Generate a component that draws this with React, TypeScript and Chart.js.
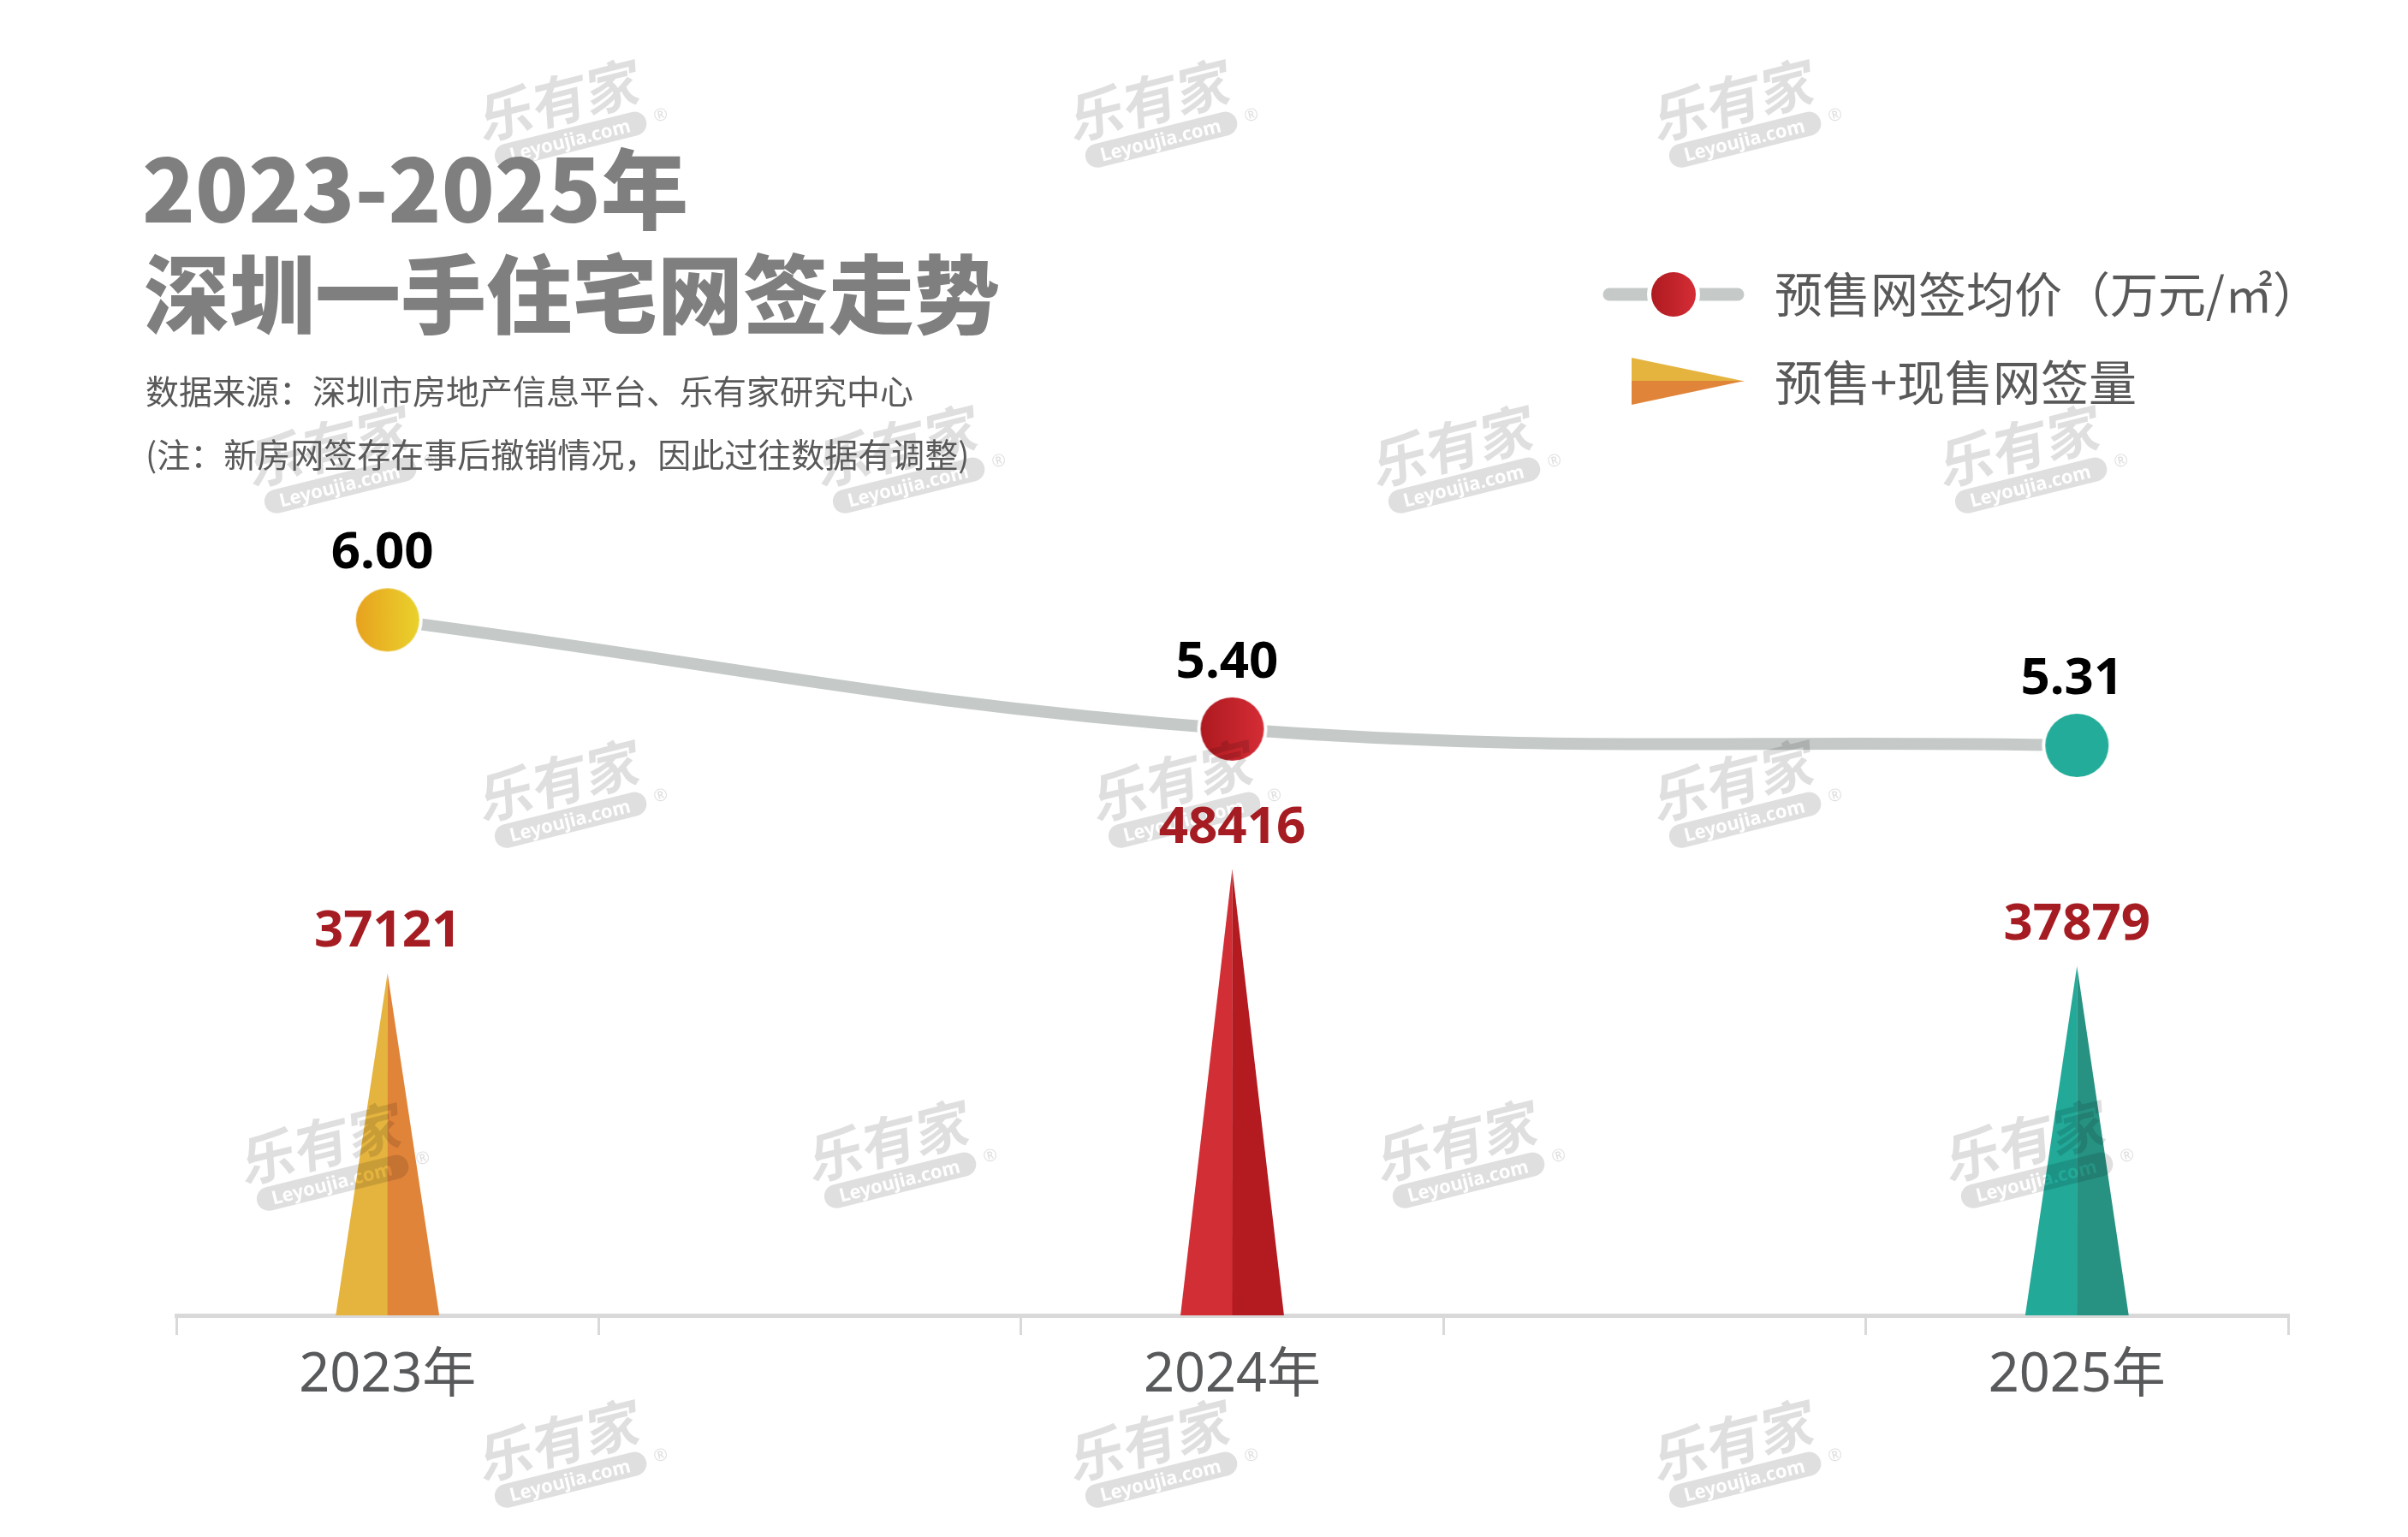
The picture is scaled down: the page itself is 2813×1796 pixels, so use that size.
import React, { useEffect, useRef } from 'react';
import { Chart, registerables } from 'chart.js';

Chart.register(...registerables);

// ---------- data ----------
const years = ['2023年', '2024年', '2025年'];
const avgPrice = [6.0, 5.4, 5.31];
const priceText = ['6.00', '5.40', '5.31'];
const signedVolume = [37121, 48416, 37879];
const titleLines = ['2023-2025年', '深圳一手住宅网签走势'];
const noteLines = [
  '数据来源：深圳市房地产信息平台、乐有家研究中心',
  '(注：新房网签存在事后撤销情况，因此过往数据有调整)',
];
const legendLabels = ['预售网签均价（万元/㎡）', '预售+现售网签量'];
const watermarkBrand = '乐有家';
const watermarkSite = 'Leyoujia.com';

// ---------- styles ----------
const W = 2813;
const H = 1796;
const CJK = '"Noto Sans CJK SC", "Noto Sans", sans-serif';
const LATIN = '"Noto Sans", "Noto Sans CJK SC", sans-serif';
const triColors: [string, string][] = [
  ['#E5B43F', '#E0843A'],
  ['#D22E35', '#B31B20'],
  ['#22A998', '#279282'],
];
const pointGrad: [string, string][] = [
  ['#E8A21F', '#EAD22C'],
  ['#AE1A20', '#D52D36'],
  ['#22AC99', '#22AC99'],
];
const watermarkSpots: [number, number][] = [
  [655, 129], [1345, 129], [2027, 129],
  [386, 533], [1050, 533], [1699, 533], [2361, 533],
  [655, 924], [1372, 924], [2027, 924],
  [377, 1348], [1040, 1345], [1704, 1345], [2368, 1345],
  [655, 1695], [1345, 1695], [2027, 1695],
];

// category slots: each year separated by an empty slot
const slotLabels: string[] = years.flatMap((y, i) => (i < years.length - 1 ? [y, `gap${i}`] : [y]));

function makePointImage(c1: string, c2: string, r: number, border: number): HTMLCanvasElement {
  const size = Math.ceil(2 * (r + border) + 2);
  const c = document.createElement('canvas');
  c.width = size;
  c.height = size;
  const g = c.getContext('2d')!;
  const cx = size / 2;
  g.fillStyle = '#ffffff';
  g.beginPath();
  g.arc(cx, cx, r + border, 0, Math.PI * 2);
  g.fill();
  const grad = g.createLinearGradient(cx - r, 0, cx + r, 0);
  grad.addColorStop(0, c1);
  grad.addColorStop(1, c2);
  g.fillStyle = grad;
  g.beginPath();
  g.arc(cx, cx, r, 0, Math.PI * 2);
  g.fill();
  return c;
}

function makeWatermark(): HTMLCanvasElement {
  const c = document.createElement('canvas');
  c.width = 340;
  c.height = 240;
  const g = c.getContext('2d')!;
  g.translate(170, 120);
  g.rotate((-14 * Math.PI) / 180);
  g.fillStyle = '#000';
  g.textAlign = 'center';
  g.textBaseline = 'alphabetic';
  g.save();
  g.transform(1, 0, -0.18, 1, 0, 0);
  g.font = `bold 64px ${CJK}`;
  g.fillText(watermarkBrand, 0, 12);
  g.restore();
  g.beginPath();
  (g as any).roundRect(-88, 22, 182, 28, 14);
  g.fill();
  g.globalCompositeOperation = 'destination-out';
  g.font = `bold 22px ${LATIN}`;
  g.fillText(watermarkSite, 2, 44);
  g.globalCompositeOperation = 'source-over';
  g.font = `20px ${LATIN}`;
  g.fillText('®', 112, 40);
  return c;
}

export default function App() {
  const ref = useRef<HTMLCanvasElement | null>(null);

  useEffect(() => {
    document.body.style.margin = '0';
    const canvas = ref.current;
    if (!canvas) return;

    const pointImgs = pointGrad.map(([a, b]) => makePointImage(a, b, 37, 4));
    const wm = makeWatermark();

    const decor = {
      id: 'decor',
      beforeDraw(chart: any) {
        const { ctx } = chart;
        ctx.save();
        ctx.fillStyle = '#ffffff';
        ctx.fillRect(0, 0, chart.width, chart.height);
        ctx.restore();
      },
      afterDatasetDraw(chart: any, args: any) {
        const meta = args.meta;
        if (meta.type !== 'bar') return;
        const ctx = chart.ctx;
        ctx.save();
        meta.data.forEach((el: any, i: number) => {
          const { x, y, base, width } = el.getProps(['x', 'y', 'base', 'width'], true);
          const [l, r] = triColors[i % triColors.length];
          ctx.fillStyle = l;
          ctx.beginPath();
          ctx.moveTo(x - width / 2, base);
          ctx.lineTo(x, y);
          ctx.lineTo(x + 0.5, base);
          ctx.closePath();
          ctx.fill();
          ctx.fillStyle = r;
          ctx.beginPath();
          ctx.moveTo(x, base);
          ctx.lineTo(x, y);
          ctx.lineTo(x + width / 2, base);
          ctx.closePath();
          ctx.fill();
        });
        ctx.restore();
      },
      afterDatasetsDraw(chart: any) {
        const ctx = chart.ctx;
        ctx.save();
        // watermarks
        ctx.globalAlpha = 0.12;
        watermarkSpots.forEach(([x, y]) => ctx.drawImage(wm, x - wm.width / 2, y - wm.height / 2));
        ctx.globalAlpha = 1;

        // value labels
        ctx.textAlign = 'center';
        ctx.textBaseline = 'alphabetic';
        ctx.font = `bold 60px ${LATIN}`;
        const lineMeta = chart.getDatasetMeta(0);
        lineMeta.data.forEach((pt: any, i: number) => {
          ctx.fillStyle = '#000000';
          ctx.fillText(priceText[i], pt.x - 6, pt.y - 60);
        });
        const barMeta = chart.getDatasetMeta(1);
        barMeta.data.forEach((bar: any, i: number) => {
          ctx.fillStyle = '#A51C22';
          ctx.fillText(String(signedVolume[i]), bar.x, bar.y - 31);
        });

        // title
        ctx.textAlign = 'left';
        ctx.fillStyle = '#7f7f7f';
        ctx.font = `900 102px ${CJK}`;
        ctx.fillText(titleLines[0], 166, 260);
        ctx.font = `900 100px ${CJK}`;
        ctx.fillText(titleLines[1], 168, 382);
        ctx.fillStyle = '#595959';
        ctx.font = `39px ${CJK}`;
        ctx.fillText(noteLines[0], 170, 472);
        ctx.fillText(noteLines[1], 170, 546);

        // legend: line + point
        ctx.strokeStyle = '#C5CAC8';
        ctx.lineWidth = 15;
        ctx.lineCap = 'round';
        ctx.beginPath();
        ctx.moveTo(1880, 344);
        ctx.lineTo(2030, 344);
        ctx.stroke();
        const legPt = makePointImage(pointGrad[1][0], pointGrad[1][1], 26, 5);
        ctx.drawImage(legPt, 1955 - legPt.width / 2, 344 - legPt.height / 2);
        // legend: triangle
        ctx.fillStyle = triColors[0][0];
        ctx.beginPath();
        ctx.moveTo(1906, 418);
        ctx.lineTo(2038, 445.5);
        ctx.lineTo(1906, 445.5);
        ctx.closePath();
        ctx.fill();
        ctx.fillStyle = triColors[0][1];
        ctx.beginPath();
        ctx.moveTo(1906, 445);
        ctx.lineTo(2038, 445);
        ctx.lineTo(1906, 473);
        ctx.closePath();
        ctx.fill();
        ctx.fillStyle = '#595959';
        ctx.font = `56px ${CJK}`;
        ctx.fillText(legendLabels[0], 2073, 365);
        ctx.fillText(legendLabels[1], 2073, 468);
        ctx.restore();
      },
    };

    const chart = new Chart(canvas, {
      type: 'bar',
      data: {
        labels: slotLabels,
        datasets: [
          {
            type: 'line',
            label: legendLabels[0],
            data: years.map((y, i) => ({ x: y, y: avgPrice[i] })),
            yAxisID: 'yPrice',
            borderColor: '#C5CAC8',
            borderWidth: 14,
            tension: 0.4,
            pointStyle: pointImgs as any,
            pointRadius: 40,
            pointHoverRadius: 40,
            fill: false,
          } as any,
          {
            type: 'bar',
            label: legendLabels[1],
            data: years.map((y, i) => ({ x: y, y: signedVolume[i] })),
            yAxisID: 'yVol',
            backgroundColor: 'rgba(0,0,0,0)',
            borderWidth: 0,
            barPercentage: 0.245,
            categoryPercentage: 1,
          } as any,
        ],
      },
      options: {
        responsive: false,
        animation: false,
        devicePixelRatio: 1,
        layout: { padding: { left: 206, right: 140, top: 600, bottom: 140.4 } },
        plugins: {
          legend: { display: false },
          tooltip: { enabled: false },
          title: { display: false },
        },
        scales: {
          x: {
            type: 'category',
            offset: true,
            grid: {
              offset: true,
              drawOnChartArea: false,
              drawTicks: true,
              tickLength: 23,
              color: '#d9d9d9',
              lineWidth: 3,
            },
            border: { display: true, color: '#d9d9d9', width: 5 },
            ticks: {
              autoSkip: false,
              maxRotation: 0,
              minRotation: 0,
              padding: 10,
              color: '#58595b',
              font: { family: LATIN, size: 63 },
              callback: (_v: any, i: number) => (years.includes(slotLabels[i]) ? slotLabels[i] : ''),
            },
          },
          yVol: { type: 'linear', display: false, min: 0, max: 87000 },
          yPrice: { type: 'linear', display: false, min: 2.176, max: 6.585 },
        },
      } as any,
      plugins: [decor],
    });

    return () => chart.destroy();
  }, []);

  return (
    <div style={{ width: W, height: H, position: 'relative' }}>
      <canvas ref={ref} width={W} height={H} style={{ display: 'block' }} />
    </div>
  );
}
